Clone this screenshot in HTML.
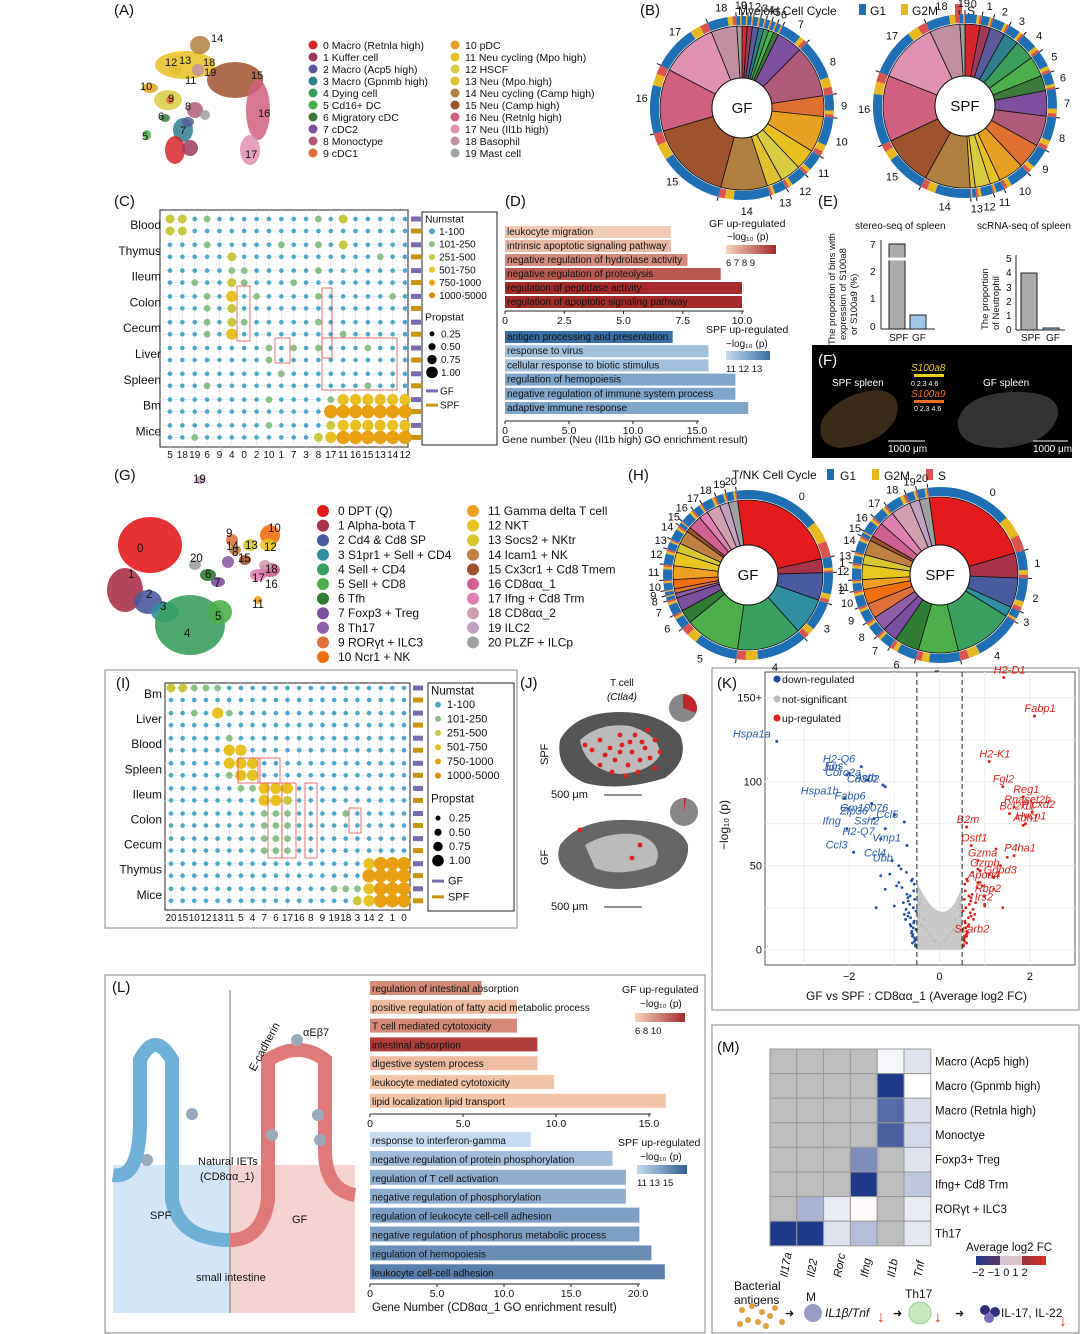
<!DOCTYPE html>
<html><head><meta charset="utf-8">
<style>
html,body{margin:0;padding:0;background:#fff;}
svg{display:block;font-family:"Liberation Sans",sans-serif;}
.pl{font-size:15px;fill:#111;}
.t{font-size:11px;fill:#111;}
.s{font-size:10px;fill:#111;}
</style></head>
<body>
<svg id="fig" width="1080" height="1334" viewBox="0 0 1080 1334" xmlns="http://www.w3.org/2000/svg">
<text class="pl" x="114" y="15">(A)</text>
<text class="pl" x="640" y="15">(B)</text>
<text class="pl" x="114" y="206">(C)</text>
<text class="pl" x="505" y="206">(D)</text>
<text class="pl" x="818" y="206">(E)</text>
<text class="pl" x="114" y="480">(G)</text>
<text class="pl" x="628" y="480">(H)</text>
<text class="pl" x="116" y="688">(I)</text>
<text class="pl" x="520" y="688">(J)</text>
<text class="pl" x="717" y="688">(K)</text>
<text class="pl" x="112" y="992">(L)</text>
<text class="pl" x="717" y="1052">(M)</text>

<rect x="105" y="670" width="412" height="258" fill="none" stroke="#888"/>
<rect x="712" y="668" width="367" height="342" fill="none" stroke="#888"/>
<rect x="105" y="975" width="600" height="358" fill="none" stroke="#888"/>
<rect x="712" y="1025" width="367" height="308" fill="none" stroke="#888"/>

<text x="738" y="15" class="t" style="font-size:12px">Myeloid Cell Cycle</text>
<rect x="859" y="4" width="7" height="11" fill="#1f6fb4"/><text x="870" y="15" class="t" style="font-size:12px">G1</text>
<rect x="901" y="4" width="7" height="11" fill="#e8b820"/><text x="912" y="15" class="t" style="font-size:12px">G2M</text>
<rect x="955" y="4" width="7" height="11" fill="#d9534f"/><text x="967" y="15" class="t" style="font-size:12px">S</text>
<text x="732" y="479" class="t" style="font-size:12px">T/NK Cell Cycle</text>
<rect x="827" y="469" width="7" height="11" fill="#1f6fb4"/><text x="840" y="480" class="t" style="font-size:12px">G1</text>
<rect x="872" y="469" width="7" height="11" fill="#e8b820"/><text x="884" y="480" class="t" style="font-size:12px">G2M</text>
<rect x="926" y="469" width="7" height="11" fill="#d9534f"/><text x="938" y="480" class="t" style="font-size:12px">S</text>

<g>
<text x="855" y="229" class="s">stereo-seq of spleen</text>
<text x="977" y="229" class="s">scRNA-seq of spleen</text>
<text transform="translate(835,345) rotate(-90)" class="s" style="font-size:9.5px">The proportion of bins with</text>
<text transform="translate(846,340) rotate(-90)" class="s" style="font-size:9.5px">expression of S100a8</text>
<text transform="translate(857,335) rotate(-90)" class="s" style="font-size:9.5px">or S100a9 (%)</text>
<line x1="881" y1="240" x2="881" y2="329" stroke="#222"/>
<line x1="881" y1="329" x2="935" y2="329" stroke="#222"/>
<text x="870" y="248" class="s">7</text>
<text x="870" y="275" class="s">2</text>
<text x="870" y="302" class="s">1</text>
<text x="870" y="330" class="s">0</text>
<rect x="889" y="244" width="16" height="85" fill="#aaa" stroke="#222"/>
<line x1="887" y1="259" x2="907" y2="259" stroke="#fff" stroke-width="3"/>
<rect x="910" y="315" width="16" height="14" fill="#9fc5e8" stroke="#222"/>
<text x="889" y="341" class="s">SPF</text><text x="912" y="341" class="s">GF</text>
<text transform="translate(988,330) rotate(-90)" class="s" style="font-size:9.5px">The proportion</text>
<text transform="translate(999,330) rotate(-90)" class="s" style="font-size:9.5px">of Neutrophil</text>
<line x1="1016" y1="255" x2="1016" y2="330" stroke="#222"/>
<line x1="1016" y1="330" x2="1065" y2="330" stroke="#222"/>
<text x="1006" y="262" class="s">5</text><text x="1006" y="276" class="s">4</text><text x="1006" y="291" class="s">3</text><text x="1006" y="305" class="s">2</text><text x="1006" y="319" class="s">1</text><text x="1006" y="333" class="s">0</text>
<rect x="1021" y="273" width="16" height="57" fill="#aaa" stroke="#222"/>
<rect x="1043" y="328" width="16" height="2" fill="#9fc5e8" stroke="#222"/>
<text x="1021" y="341" class="s">SPF</text><text x="1046" y="341" class="s">GF</text>
</g>

<g>
<rect x="812" y="345" width="260" height="113" fill="#000"/>
<text class="pl" x="818" y="365" style="fill:#fff">(F)</text>
<path d="M822,420 Q840,392 880,390 Q905,395 895,420 Q880,445 840,448 Q815,445 822,420Z" fill="#3a2a1a"/>
<path d="M958,420 Q965,395 1010,392 Q1060,390 1058,415 Q1050,445 1000,448 Q955,447 958,420Z" fill="#333"/>
<text x="832" y="386" class="s" style="fill:#fff">SPF spleen</text>
<text x="983" y="386" class="s" style="fill:#fff">GF spleen</text>
<text x="911" y="371" class="s" style="fill:#e8d020;font-style:italic">S100a8</text>
<rect x="914" y="374" width="30" height="3" fill="#e8d020"/>
<text x="911" y="386" style="fill:#fff;font-size:7px">0 2.3 4.6</text>
<text x="911" y="397" class="s" style="fill:#e87020;font-style:italic">S100a9</text>
<rect x="914" y="400" width="30" height="3" fill="#e87020"/>
<text x="914" y="411" style="fill:#fff;font-size:7px">0 2.3 4.6</text>
<line x1="888" y1="441" x2="925" y2="441" stroke="#fff"/>
<text x="888" y="452" class="s" style="fill:#fff">1000 μm</text>
<line x1="1033" y1="441" x2="1068" y2="441" stroke="#fff"/>
<text x="1033" y="452" class="s" style="fill:#fff">1000 μm</text>
</g>

<g>
<text x="610" y="686" class="s">T cell</text>
<text x="607" y="700" class="s" style="font-style:italic">(Ctla4)</text>
<circle cx="683" cy="708" r="14" fill="#888"/>
<path d="M683,708 L683,694 A14,14 0 0,1 696,713 Z" fill="#c0262b"/>
<circle cx="684" cy="812" r="14" fill="#888"/>
<path d="M684,812 L684,798 A14,14 0 0,1 686,798 Z" fill="#c0262b"/>
<path d="M560,740 Q575,712 620,712 Q660,712 680,735 Q690,760 665,778 Q620,792 585,783 Q555,770 560,740Z" fill="#555"/>
<path d="M580,740 Q600,722 630,726 Q660,735 660,755 Q650,772 620,774 Q585,770 580,740Z" fill="#bbb"/>
<path d="M560,845 Q580,818 630,820 Q680,822 688,845 Q690,875 650,885 Q610,895 580,880 Q552,868 560,845Z" fill="#666"/>
<path d="M585,845 Q610,830 640,835 Q665,845 655,865 Q620,878 595,868Z" fill="#bbb"/>
<text transform="translate(548,765) rotate(-90)" class="t">SPF</text>
<text transform="translate(548,865) rotate(-90)" class="t">GF</text>
<text x="551" y="798" class="t">500 μm</text>
<line x1="604" y1="795" x2="642" y2="795" stroke="#222"/>
<text x="551" y="910" class="t">500 μm</text>
<line x1="604" y1="907" x2="642" y2="907" stroke="#222"/>
<g id="jdots"></g>
</g>

<g>
<rect x="113" y="1165" width="117" height="148" fill="#d4e6f5"/>
<rect x="230" y="1165" width="125" height="148" fill="#f6d3d3"/>
<line x1="230" y1="990" x2="230" y2="1313" stroke="#555" stroke-width="0.8"/>
<path d="M113,1175 Q140,1180 140,1120 L140,1060 Q155,1030 172,1060 L172,1200 Q180,1240 230,1240" fill="none" stroke="#6fb0d8" stroke-width="14"/>
<path d="M230,1240 Q262,1240 268,1200 L268,1060 Q300,1040 325,1060 L325,1150 Q325,1190 355,1195" fill="none" stroke="#e07a7a" stroke-width="14"/>
<circle cx="147" cy="1160" r="6" fill="#9ab"/>
<circle cx="192" cy="1114" r="6" fill="#9ab"/>
<circle cx="272" cy="1135" r="6" fill="#9ab"/>
<circle cx="318" cy="1115" r="6" fill="#9ab"/>
<circle cx="320" cy="1140" r="6" fill="#9ab"/>
<circle cx="297" cy="1040" r="6" fill="#9ab"/>
<text x="198" y="1165" class="t">Natural IETs</text>
<text x="200" y="1180" class="t">(CD8αα_1)</text>
<text x="150" y="1219" class="t">SPF</text>
<text x="292" y="1223" class="t">GF</text>
<text x="196" y="1281" class="t">small intestine</text>
<text transform="translate(255,1072) rotate(-62)" class="t">E-cadherin</text>
<text x="303" y="1036" class="t">αEβ7</text>
</g>

<g>
<text x="734" y="1290" class="t" style="font-size:12px">Bacterial</text>
<text x="734" y="1304" class="t" style="font-size:12px">antigens</text>
<text x="806" y="1301" class="t" style="font-size:12px">M</text>
<circle cx="813" cy="1313" r="9" fill="#9a9cc8"/>
<text x="825" y="1317" class="t" style="font-size:12px;font-style:italic">IL1β/Tnf</text>
<text x="877" y="1322" style="fill:#e03010;font-size:16px">↓</text>
<text x="905" y="1298" class="t" style="font-size:12px">Th17</text>
<circle cx="920" cy="1313" r="11" fill="#c8e6c0" stroke="#9c9"/>
<text x="934" y="1322" style="fill:#e03010;font-size:16px">↓</text>
<circle cx="985" cy="1310" r="5" fill="#30307a"/>
<circle cx="995" cy="1312" r="5" fill="#30307a"/>
<circle cx="989" cy="1318" r="5" fill="#7a70b8"/>
<text x="1001" y="1317" class="t" style="font-size:12px">IL-17, IL-22</text>
<text x="1059" y="1326" style="fill:#e03010;font-size:16px">↓</text>
<text x="785" y="1317" class="t">➜</text>
<text x="893" y="1317" class="t">➜</text>
<text x="955" y="1317" class="t">➜</text>
</g>
<g id="dyn"></g>
</svg>
<script>
const myeloidNames = ["0 Macro (Retnla high)","1 Kuffer cell","2 Macro (Acp5 high)","3 Macro (Gpnmb high)","4 Dying cell","5 Cd16+ DC","6 Migratory cDC","7 cDC2","8 Monoctype","9 cDC1","10 pDC","11 Neu cycling (Mpo high)","12 HSCF","13 Neu (Mpo high)","14 Neu cycling (Camp high)","15 Neu (Camp high)","16 Neu (Retnlg high)","17 Neu (Il1b high)","18 Basophil","19 Mast cell"];
const myeloidColors = ["#d7262b","#9e3a5a","#5b5b9b","#2f7f8f","#3a9e5a","#4daf4a","#3b7a3b","#7f4f9f","#b05a7a","#e07030","#e8a020","#e8c020","#d8cc40","#e0c030","#b08040","#a0522d","#d06080","#e090b0","#c090a0","#a0a0a0"];
const tnkNames = ["0 DPT (Q)","1 Alpha-bota T","2 Cd4 & Cd8 SP","3 S1pr1 + Sell + CD4","4 Sell + CD4","5 Sell + CD8","6 Tfh","7 Foxp3 + Treg","8 Th17","9 RORγt + ILC3","10 Ncr1 + NK","11 Gamma delta T cell","12 NKT","13 Socs2 + NKtr","14 Icam1 + NK","15 Cx3cr1 + Cd8 Tmem","16 CD8αα_1","17 Ifng + Cd8 Trm","18 CD8αα_2","19 ILC2","20 PLZF + ILCp"];
const tnkColors = ["#e41a1c","#a8324a","#4a5a9e","#2f8fa0","#3aa060","#4daf4a","#2e7d32","#7b4fa0","#8e5fa8","#e0703a","#f07010","#f0a020","#e8c820","#d8c830","#c08040","#a0522d","#d06090","#e080b0","#d0a0b0","#c0a0c0","#a0a0a0"];
const bGfProps = [0.01,0.01,0.012,0.01,0.01,0.01,0.01,0.05,0.1,0.04,0.07,0.04,0.04,0.03,0.09,0.16,0.12,0.11,0.05,0.01];
const bSpfProps = [0.03,0.02,0.03,0.03,0.04,0.04,0.03,0.05,0.06,0.05,0.05,0.02,0.03,0.01,0.09,0.1,0.13,0.12,0.06,0.01];
const hGfProps = [0.24,0.03,0.06,0.08,0.14,0.12,0.03,0.03,0.01,0.01,0.02,0.03,0.03,0.02,0.03,0.01,0.03,0.02,0.03,0.02,0.02];
const hSpfProps = [0.22,0.05,0.06,0.02,0.12,0.08,0.05,0.03,0.03,0.03,0.03,0.02,0.03,0.02,0.03,0.01,0.03,0.03,0.04,0.02,0.02];
const cycleG1 = 0.7, cycleG2M = 0.17;

const cCols = ["5","18","19","6","9","4","0","2","10","1","7","3","8","17","11","16","15","13","14","12"];
const cRows = ["Blood","Thymus","Ileum","Colon","Cecum","Liver","Spleen","Bm","Mice"];
const cVals = [
 ["33121111111121311111","33111111111111111111"],
 ["11121111121121311111","11111311111111111211"],
 ["11111221111121111111","11211321112111111111"],
 ["11121412111121111121","11121311111111111111"],
 ["11121321111121111111","11121411111111211111"],
 ["11111111212121112111","11111111211111111111"],
 ["11111111121111111111","11121111111111112111"],
 ["11111111211112444444","11111111111115555555"],
 ["11111111211113444444","11211111111134555555"]];
const iCols = ["20","15","10","12","13","11","5","4","7","6","17","16","8","9","19","18","3","14","2","1","0"];
const iRows = ["Bm","Liver","Blood","Spleen","Ileum","Colon","Cecum","Thymus","Mice"];
const iVals = [
 ["332221111111111111111","111111111111111111111"],
 ["112142111111111111111","111111111111111111111"],
 ["111112111111111111111","111114411111111111111"],
 ["111114441111111111111","111112441111111111111"],
 ["111111224441111111111","111111114431111111111"],
 ["111111112221111211111","111111112221111111111"],
 ["111111112221111111111","111111112221111111111"],
 ["111111111111111114555","111111111111111115555"],
 ["111111111111112224555","111111111111111134555"]];

const dGfTerms = ["leukocyte migration","intrinsic apoptotic signaling pathway","negative regulation of hydrolase activity","negative regulation of proteolysis","regulation of peptidase activity","regulation of apoptotic signaling pathway"];
const dGfValues = [7.0,7.0,7.7,9.1,10.0,10.0];
const dGfP = [6.2,6.5,7.3,8.2,9.0,9.0];
const dSpfTerms = ["antigen processing and presentation","response to virus","cellular response to biotic stimulus","regulation of hemopoiesis","negative regulation of immune system process","adaptive immune response"];
const dSpfValues = [13.1,15.9,15.9,18.0,18.0,19.0];
const dSpfP = [13,11.5,11.5,12,12,12];
const lGfTerms = ["regulation of intestinal absorption","positive regulation of fatty acid metabolic process","T cell mediated cytotoxicity","intestinal absorption","digestive system process","leukocyte mediated cytotoxicity","lipid localization    lipid transport"];
const lGfValues = [6.0,7.9,7.9,9.0,9.0,9.9,15.9];
const lGfP = [7.5,6.2,7.5,9.5,6.2,6.0,6.0];
const lSpfTerms = ["response to interferon-gamma","negative regulation of protein phosphorylation","regulation of T cell activation","negative regulation of phosphorylation","regulation of leukocyte cell-cell adhesion","negative regulation of phosphorus metabolic process","regulation of hemopoiesis","leukocyte cell-cell adhesion"];
const lSpfValues = [12.0,18.1,19.1,19.1,20.1,20.1,21.0,22.0];
const lSpfP = [11,12,12.5,12.5,13,13,13.5,14];

const kGenes = ["H2-D1","Fabp1","Hspa1a","Fos","H2-Q6","Jun","Actb","Cd302","Coro2a","Fabp6","Gm10076","Hspa1b","Zfp36","Ccl5","Ifng","H2-Q7","Vmp1","Ccl3","Ssh2","Ccl4","Ubb","H2-K1","Fgl2","Reg1","Rnaset2b","Plcxd2","B2m","Bcl2l11","Hvcn1","Adh1","Ostf1","P4ha1","Gzma","Gzmb","Apoa4","Gdpd3","Rbp2","Irs2","Scarb2"];
const kGeneFC = [1.42,2.1,-3.6,-2.0,-1.73,-2.05,-1.25,-1.2,-1.6,-1.5,-1.0,-2.1,-1.45,-0.78,-2.05,-1.3,-0.72,-1.9,-1.2,-1.05,-0.9,1.1,1.4,1.85,1.65,2.05,0.6,1.55,1.9,1.85,0.7,1.65,0.85,0.9,0.85,1.2,1.0,1.0,0.55];
const kGeneP = [162,139,124,105,109,104,98,97,101,87,80,90,78,76,72,66,62,58,72,53,50,112,97,91,85,82,73,81,75,74,62,56,53,47,40,43,32,27,8];
const kDownFC = [-0.55,-0.6,-0.52,-0.65,-0.7,-0.58,-0.62,-0.75,-0.55,-0.8,-0.57,-0.68,-0.9,-0.6,-0.53,-0.72,-1.1,-0.85,-0.95,-1.2,-0.63,-0.56,-0.66,-0.74,-1.3,-0.59,-0.54,-0.7,-0.78,-1.0,-0.61,-0.57,-0.64,-0.52,-0.69,-0.83,-0.58,-0.55,-0.6,-1.4,-0.65,-0.73,-0.56,-0.62,-0.53];
const kDownP = [5,8,12,15,20,25,10,18,30,28,35,22,40,42,3,33,45,48,38,36,14,17,27,24,44,9,6,31,21,26,11,16,19,23,29,37,13,7,4,25,32,46,39,41,2];
const kUpFC = [0.55,0.6,0.52,0.65,0.7,0.58,0.62,0.75,0.55,0.8,0.57,0.68,0.9,0.6,0.53,0.72,1.1,0.85,0.95,1.2,0.63,0.56,0.66,0.74,1.3,0.59,0.54,0.7,0.78,1.0,0.61,0.57,0.64,0.52,0.69,0.83,0.58,0.55,0.6,1.4,0.65,0.73,0.56,0.62,0.53,1.25,1.5,1.35];
const kUpP = [5,8,12,15,20,25,10,18,30,28,35,22,40,42,3,33,45,48,38,36,14,17,27,24,44,9,6,31,21,26,11,16,19,23,29,37,13,7,4,25,32,46,39,41,2,60,55,50];
const kGreyFC = [-0.45,-0.4,-0.3,-0.2,-0.1,0,0.1,0.2,0.3,0.4,0.45,-0.45,-0.35,-0.25,0.25,0.35,0.45,-0.48,0.48,-0.42,0.42,-0.15,0.15,-0.38,0.38];
const kGreyP = [20,15,12,8,5,4,5,8,12,15,20,28,18,10,10,18,27,24,22,30,25,6,6,14,14];

const mRows = ["Macro (Acp5 high)","Macro (Gpnmb high)","Macro (Retnla high)","Monoctye","Foxp3+ Treg","Ifng+ Cd8 Trm","RORγt + ILC3","Th17"];
const mCols = ["Il17a","Il22","Rorc","Ifng","Il1b","Tnf"];
const mVals = [
 [null,null,null,null,-0.1,-0.3],
 [null,null,null,null,-2.2,0.0],
 [null,null,null,null,-1.6,-0.35],
 [null,null,null,null,-1.7,-0.4],
 [null,null,null,-1.2,null,-0.3],
 [null,null,null,-2.1,null,-0.6],
 [null,-0.8,-0.2,0.05,null,-0.2],
 [-2.2,-2.2,-0.3,-0.7,null,-0.25]];

const NS="http://www.w3.org/2000/svg";
const root=document.getElementById('dyn');
function mk(tag,attrs,parent){const e=document.createElementNS(NS,tag);for(const k in attrs)e.setAttribute(k,attrs[k]);(parent||root).appendChild(e);return e;}
function txt(x,y,s,size,parent,extra){const e=mk('text',Object.assign({x:x,y:y,'font-size':size||11,fill:'#111'},extra||{}),parent);e.textContent=s;return e;}
function lerp(a,b,t){return a+(b-a)*t;}
function mix(c1,c2,t){t=Math.max(0,Math.min(1,t));const p=c=>[1,3,5].map(i=>parseInt(c.substr(i,2),16));const a=p(c1),b=p(c2);return 'rgb('+a.map((v,i)=>Math.round(lerp(v,b[i],t))).join(',')+')';}
const numColors=["#4aa8c8","#8cc08a","#c8c83c","#e8c020","#e8a010","#e08a00"];

const aBlobs=[[185,65,30,14,11],[200,45,10,9,14],[235,80,28,18,15],[258,110,12,30,16],[250,150,10,15,17],[168,100,14,10,12],[195,110,8,8,8],[183,130,10,12,3],[175,150,10,14,0],[190,148,8,8,1],[150,88,8,5,10],[175,70,6,5,13],[198,70,6,6,18],[147,135,4,5,5],[165,118,5,4,6],[170,100,4,4,9],[188,122,6,5,2],[205,115,5,5,19]];
aBlobs.forEach(b=>{const e=mk('ellipse',{cx:b[0],cy:b[1],rx:b[2],ry:b[3],fill:myeloidColors[b[4]],opacity:0.85});

});
[["14",211,42],["12",165,66],["13",179,64],["18",203,66],["11",185,84],["19",204,76],["10",140,90],["15",251,79],["16",258,117],["9",168,102],["6",158,120],["8",185,110],["5",142,140],["17",245,158],["7",180,134]].forEach(l=>{const e=txt(l[1],l[2],l[0],11);

});
myeloidNames.forEach((n,i)=>{const col=i<10?0:1,row=i%10;const x=col?455:313,y=49+row*12;
const c=mk('circle',{cx:x,cy:y-4,r:4.5,fill:myeloidColors[i]});


const t=txt(x+10,y,n,10.5);

});

function circle(cx,cy,R,props,colors,label,startDeg,gname){
 const g=mk('g',{});
 
 
 const tot=props.reduce((a,b)=>a+b,0);let a0=startDeg;const rIn=30,rMid=R-10;
 const pt=(r,deg)=>[cx+r*Math.sin(deg*Math.PI/180),cy-r*Math.cos(deg*Math.PI/180)];
 const arc=(r1,r2,d1,d2)=>{const L=(d2-d1)>180?1:0;const a=pt(r2,d1),b=pt(r2,d2),c=pt(r1,d2),d=pt(r1,d1);return `M${a}A${r2},${r2} 0 ${L},1 ${b}L${c}A${r1},${r1} 0 ${L},0 ${d}Z`;};
 props.forEach((p,i)=>{const a1=a0+p/tot*360;
  const w=mk('path',{d:arc(rIn,rMid,a0,a1),fill:colors[i],stroke:'#111','stroke-width':0.8},g);
  
  
  const span=a1-a0;const s1=a0+span*cycleG1,s2=s1+span*cycleG2M;
  [[a0,s1,'#1f6fb4'],[s1,s2,'#e8b820'],[s2,a1,'#d9534f']].forEach(seg=>{const r=mk('path',{d:arc(rMid+1,R,seg[0],seg[1]),fill:seg[2]},g);
   
   });
  const tk=mk('line',{x1:pt(R,a0)[0],y1:pt(R,a0)[1],x2:pt(R+4,a0)[0],y2:pt(R+4,a0)[1],stroke:'#111'},g);
  
  
  const lp=pt(R+11,(a0+a1)/2);const t=txt(lp[0]-4,lp[1]+4,String(i),11,g);
  
  
  a0=a1;});
 const c=mk('circle',{cx:cx,cy:cy,r:rIn,fill:'#fff',stroke:'#111'},g);
 
 
 const t=txt(cx,cy+5,label,15,g,{'text-anchor':'middle'});
 
 
}
circle(742,108,92,bGfProps,myeloidColors,'GF',0,'myeloid-gf-circle');
circle(965,106,92,bSpfProps,myeloidColors,'SPF',0,'myeloid-spf-circle');
circle(748,575,85,hGfProps,tnkColors,'GF',-8,'tnk-gf-circle');
circle(940,575,88,hSpfProps,tnkColors,'SPF',-8,'tnk-spf-circle');

const gBlobs=[[150,545,32,28,0],[125,590,18,22,1],[148,602,14,12,2],[165,612,14,10,3],[190,625,35,30,4],[220,612,12,12,5],[208,575,8,6,6],[218,582,7,5,7],[228,562,6,6,8],[232,540,6,6,9],[270,535,10,10,10],[258,600,4,4,11],[268,545,8,6,12],[250,545,7,6,13],[235,550,6,5,14],[245,560,6,5,15],[270,570,10,7,16],[258,575,8,6,17],[265,565,6,5,18],[200,480,5,4,19],[195,565,6,5,20]];
gBlobs.forEach(b=>{const e=mk('ellipse',{cx:b[0],cy:b[1],rx:b[2],ry:b[3],fill:tnkColors[b[4]],opacity:0.9});

});
[["19",193,483],["0",137,552],["1",128,578],["2",146,598],["3",160,610],["4",184,637],["5",215,620],["6",205,578],["7",214,587],["20",190,562],["10",268,532],["12",264,551],["13",245,549],["14",226,550],["15",238,562],["9",226,537],["8",232,556],["17",252,582],["18",265,573],["16",265,588],["11",252,608]].forEach(l=>{const e=txt(l[1],l[2],l[0],11.5);

});
tnkNames.forEach((n,i)=>{const col=i<11?0:1,row=col?i-11:i;const x=col?473:323,y=515+row*14.6;
const c=mk('circle',{cx:x,cy:y-4,r:6,fill:tnkColors[i]});


const t=txt(x+15,y,n,12);

});

function dotplot(rows,cols,vals,x0,y0,w,rowGap,name,frame,lg){
 const g=mk('g',{});
 
 
 const fr=mk('rect',{x:frame[0],y:frame[1],width:frame[2],height:frame[3],fill:'none',stroke:'#222'},g);
 
 
 const dx=w/(cols.length-1);
 cols.forEach((c,j)=>{const x=x0+j*dx;const l=mk('line',{x1:x,y1:frame[1],x2:x,y2:frame[1]+frame[3],stroke:'#ddd','stroke-width':0.6},g);
  
  
  const t=txt(x,frame[1]+frame[3]+11,c,10,g,{'text-anchor':'middle'});
  
  });
 rows.forEach((r,i)=>{const yc=y0+i*rowGap;
  const t=txt(x0-9,yc+4,r,12,g,{'text-anchor':'end'});
  
  
  [0,1].forEach(k=>{const y=yc-6+k*12;
   const gl=mk('line',{x1:frame[0],y1:y,x2:frame[0]+frame[2],y2:y,stroke:'#e2e2e2','stroke-width':0.6},g);
   
   
   const tag=mk('rect',{x:frame[0]+frame[2]+3,y:y-2.5,width:10,height:5,fill:k?'#c8960a':'#7a6bb0'},g);
   
   
   vals[i][k].split('').forEach((ch,j)=>{const v=+ch;const d=mk('circle',{cx:x0+j*dx,cy:y,r:1.2+v*1.1,fill:numColors[v-1]},g);
    
    });
  });});
 const lb=mk('rect',{x:lg[0],y:lg[1],width:lg[2],height:lg[3],fill:'#fff',stroke:'#222'},g);
 
 
 const s=lg[4];
 let t=txt(lg[0]+3,lg[1]+11*s,'Numstat',11*s,g);
 
 
 ["1-100","101-250","251-500","501-750","750-1000","1000-5000"].forEach((n,i)=>{const y=lg[1]+(24+i*13.5)*s;
  const c=mk('circle',{cx:lg[0]+10,cy:y-3.5,r:3,fill:numColors[i]},g);
  
  
  const tt=txt(lg[0]+18*s,y,n,10.5*s,g);
  
  });
 t=txt(lg[0]+3,lg[1]+114*s,'Propstat',11*s,g);
 
 
 ["0.25","0.50","0.75","1.00"].forEach((n,i)=>{const y=lg[1]+(132+i*13.5)*s;
  const c=mk('circle',{cx:lg[0]+10,cy:y-3.5,r:2.5+i*1.1,fill:'#000'},g);
  
  
  const tt=txt(lg[0]+20*s,y,n,10.5*s,g);
  
  });
 [["GF",'#7a6bb0'],["SPF",'#c8960a']].forEach((p,i)=>{const y=lg[1]+(192+i*15)*s;
  const r=mk('rect',{x:lg[0]+4,y:y-5,width:12,height:3,fill:p[1]},g);
  
  
  const tt=txt(lg[0]+19*s,y,p[0],10.5*s,g);
  
  });
}
dotplot(cRows,cCols,cVals,170,225,235,25.8,'dotplot-myeloid',[160,210,248,237],[422,212,75,233,0.95]);
dotplot(iRows,iCols,iVals,171,694,233,25.1,'dotplot-tnk',[165,683,245,227],[428,683,86,228,1.05]);
[[237,286,13,55],[275,338,15,25],[322,288,10,70],[322,338,75,52]].forEach(b=>{const r=mk('rect',{x:b[0],y:b[1],width:b[2],height:b[3],fill:'none',stroke:'#e05050','stroke-width':0.8});

});
[[238,758,22,25],[258,758,22,25],[268,783,14,75],[282,783,14,75],[305,783,12,75],[349,808,12,25]].forEach(b=>{const r=mk('rect',{x:b[0],y:b[1],width:b[2],height:b[3],fill:'none',stroke:'#e05050','stroke-width':0.8});

});

function barchart(terms,vals,pv,x0,pxPerUnit,yTop,step,bh,ticks,axisY,cLow,cHigh,pMin,pMax,name,fs){
 const g=mk('g',{});
 
 
 const xs=v=>x0+v*pxPerUnit;
 terms.forEach((t,i)=>{const y=yTop+i*step;
  const r=mk('rect',{x:x0,y:y,width:xs(vals[i])-x0,height:bh,fill:mix(cLow,cHigh,(pv[i]-pMin)/(pMax-pMin))},g);
  
  
  const tt=txt(x0+2,y+bh-3,t,fs,g);
  
  });
 const ax=mk('line',{x1:x0,y1:axisY,x2:xs(ticks[ticks.length-1])+2,y2:axisY,stroke:'#222'},g);
 
 
 ticks.forEach(v=>{const l=mk('line',{x1:xs(v),y1:axisY,x2:xs(v),y2:axisY+3,stroke:'#222'},g);
  
  
  const t=txt(xs(v),axisY+13,v===0?'0':v.toFixed(1),10.5,g,{'text-anchor':'middle'});
  
  });
}
const dTicks1=[0,2.5,5,7.5,10], dTicks2=[0,5,10,15];
barchart(dGfTerms,dGfValues,dGfP,505,23.7,226,14,12,dTicks1,311,'#f5d5bf','#a52a2a',6,9,'bars-d-gf',10);
barchart(dSpfTerms,dSpfValues,dSpfP,505,12.8,331,14.2,12,dTicks2,421,'#c6dbef','#3a6fa5',11,13,'bars-d-spf',10);
const lTicks1=[0,5,10,15], lTicks2=[0,5,10,15,20];
barchart(lGfTerms,lGfValues,lGfP,370,18.6,981,18.8,14,lTicks1,1114,'#f2c4a8','#a52a2a',6,10,'bars-l-gf',10);
barchart(lSpfTerms,lSpfValues,lSpfP,370,13.4,1132,18.9,15,lTicks2,1284,'#c6dbef','#355f95',11,15,'bars-l-spf',10);
[[709,227,'GF up-regulated'],[706,333,'SPF up-regulated'],[622,993,'GF up-regulated'],[618,1146,'SPF up-regulated']].forEach(a=>{const t=txt(a[0],a[1],a[2],10.5);

});
[[727,240],[726,347],[640,1007],[640,1160]].forEach(a=>{const t=txt(a[0],a[1],'−log₁₀ (p)',10);

});
function grad(id,c1,c2,x,y,w,lab){const d=mk('defs',{});const lg=mk('linearGradient',{id:id},d);mk('stop',{offset:0,'stop-color':c1},lg);mk('stop',{offset:1,'stop-color':c2},lg);
const r=mk('rect',{x:x,y:y,width:w,height:9,fill:'url(#'+id+')'});


const t=txt(x,y+21,lab,9.5);

}
grad('g1','#f5d5bf','#a52a2a',726,245,50,'6   7   8   9');
grad('g2','#c6dbef','#3a6fa5',726,351,44,'11 12 13');
grad('g3','#f5d5bf','#a52a2a',635,1013,50,'6     8    10');
grad('g4','#c6dbef','#355f95',637,1165,50,'11    13    15');
let tt=txt(502,443,'Gene number (Neu (Il1b high) GO enrichment result)',10.5);


tt=txt(372,1311,'Gene Number (CD8αα_1 GO enrichment result)',11.5);



const kx=v=>939.5+45.2*v, ky=v=>949.7-1.68*v;
const kg=mk('g',{});


const kf=mk('rect',{x:765,y:672,width:310,height:293,fill:'#fff',stroke:'#555'},kg);


[-3,-2,-1,0,1,2].forEach(v=>{const l=mk('line',{x1:kx(v),y1:672,x2:kx(v),y2:965,stroke:'#eee'},kg);

});
[0,25,50,75,100,125,150].forEach(v=>{const l=mk('line',{x1:765,y1:ky(v),x2:1075,y2:ky(v),stroke:'#eee'},kg);

});
[-2,0,2].forEach(v=>{const t=txt(kx(v),980,v<0?'−'+(-v):String(v),11,kg,{'text-anchor':'middle'});

});
[[0,'0'],[50,'50'],[100,'100'],[150,'150+']].forEach(v=>{const t=txt(762,ky(v[0])+4,v[1],11,kg,{'text-anchor':'end'});

});
tt=txt(806,1000,'GF vs SPF : CD8αα_1 (Average log2 FC)',12,kg);


tt=txt(0,0,'−log₁₀ (p)',12,kg,{transform:'translate(728,850) rotate(-90)'});


const gp=mk('path',{d:`M${kx(-0.5)},${ky(40)} L${kx(-0.5)},${ky(0)} L${kx(0.5)},${ky(0)} L${kx(0.5)},${ky(38)} Q${kx(0.1)},${ky(6)} ${kx(-0.5)},${ky(40)}Z`,fill:'#c8c8c8'},kg);


kGreyFC.forEach((v,i)=>{const c=mk('circle',{cx:kx(v),cy:ky(kGreyP[i]),r:1.4,fill:'#bbb'},kg);

});
kDownFC.forEach((v,i)=>{const c=mk('circle',{cx:kx(v),cy:ky(kDownP[i]),r:1.4,fill:'#1f4fa5'},kg);

});
kUpFC.forEach((v,i)=>{const c=mk('circle',{cx:kx(v),cy:ky(kUpP[i]),r:1.4,fill:'#e0201a'},kg);

});
kGenes.forEach((gname,i)=>{const up=kGeneFC[i]>0;const x=kx(kGeneFC[i]),y=ky(kGeneP[i]);
const c=mk('circle',{cx:x,cy:y,r:1.5,fill:up?'#e0201a':'#1f4fa5'},kg);


const t=txt(up?x-10:x-6,y-4,gname,11,kg,{fill:up?'#e0201a':'#2a5ab0','font-style':'italic','text-anchor':up?'start':'end'});

});
[-0.5,0.5].forEach(v=>{const l=mk('line',{x1:kx(v),y1:672,x2:kx(v),y2:965,stroke:'#222','stroke-dasharray':'5,3'},kg);

});
[['down-regulated','#1f4fa5',683],['not-significant','#bbb',703],['up-regulated','#e0201a',722]].forEach(a=>{const c=mk('circle',{cx:777,cy:a[2]-4,r:3.5,fill:a[1]},kg);


const t=txt(782,a[2],a[0],10.5,kg);

});

const mx0=770,my0=1049,cw=26.8,ch=24.6;
const mg=mk('g',{});


function hcol(v){if(v===null)return '#bdbdbd';if(v<0)return mix('#ffffff','#1f3a8a',Math.min(1,-v/2.1));return mix('#ffffff','#d7301f',v/2.1);}
mRows.forEach((r,i)=>{mCols.forEach((c,j)=>{const rc=mk('rect',{x:mx0+j*cw,y:my0+i*ch,width:cw,height:ch,fill:hcol(mVals[i][j]),stroke:'#999','stroke-width':1},mg);
 
 });
 const t=txt(935,my0+i*ch+ch/2+4,r,11.5,mg);
 
 });
mCols.forEach((c,j)=>{const x=mx0+j*cw+cw/2+4;const t=txt(0,0,c,11.5,mg,{transform:`translate(${x},${my0+8*ch+32}) rotate(-80)`,'font-style':'italic'});

});
grad('g5','#1f3a8a','#d7301f',976,1256,70,'');
tt=txt(966,1251,'Average log2 FC',11.5);


const dmid=mk('rect',{x:1000,y:1256,width:22,height:9,fill:'#fff',opacity:0.7});


tt=txt(972,1276,'−2 −1  0   1   2',11);


[[742,1310],[752,1306],[762,1312],[748,1320],[758,1322],[770,1316],[740,1324],[775,1308],[766,1326],[782,1322]].forEach(p=>{const c=mk('circle',{cx:p[0],cy:p[1],r:3,fill:'#e0a040'});

});
const jd=document.getElementById('jdots');
[[600,740],[610,748],[622,745],[632,752],[645,748],[655,740],[615,760],[628,765],[640,760],[650,758],[605,755],[620,735],[635,735],[648,730],[660,752],[592,750],[600,765],[612,772],[625,776],[638,772],[655,768],[620,752],[630,742],[642,742],[585,745],[580,830],[632,858],[640,845]].forEach(p=>{const c=mk('circle',{cx:p[0],cy:p[1],r:2.4,fill:'#e02020'},jd);

});
</script>
</body></html>
